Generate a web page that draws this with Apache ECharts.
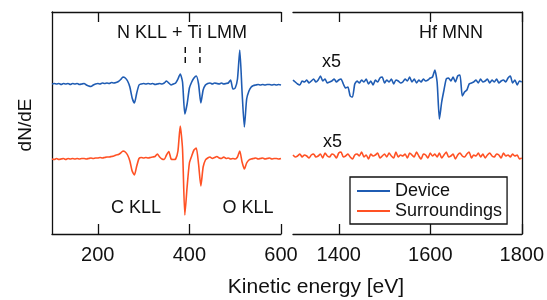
<!DOCTYPE html>
<html>
<head>
<meta charset="utf-8">
<script src="https://cdn.jsdelivr.net/npm/echarts@6.0.0/dist/echarts.min.js"></script>
<style>
    html, body {margin: 0; padding: 0; background: #fff;}
    #auger {width: 547px; height: 300px;}
</style>
</head>
<body>
<div id="auger"></div>
<script>
// low energy window: 100..600 eV, step 5
var lowStart = 100, lowStep = 5;
var deviceLow = [
    0, 0.5, 0, 0.5, -0.5, 0.5, 0, 0.5, -0.5, 0.5,
    0, 0.5, -0.5, 0, 0.5, -1, -2, -2.5, -1, 0,
    0.5, 0, 1, 0.5, 1, 0.5, 1.5, 1, 1.5, 2.5,
    4.5, 7, 6, 3, -3, -14, -19, -9, -1, 0,
    0.5, 0, 0.5, 0, 0.5, -0.5, 0, 0.5, 0, 1,
    3, 1, -1, 0, 1, 5, 10, 2, -30, -20,
    -4, 2, 6, 8, 0, -19, -6, -1, 0.5, 1,
    0, 1, 0.5, 0, 1, 0, 0.5, 1, 4, -5,
    -4, 5, 34, -8, -43, -15, -7, -3, -1.5, -1,
    -0.5, -1, -0.5, -1, -0.5, -0.5, -1, -0.5, -1, -0.5,
    -1
];
var surrLow = [
    0, -0.5, 0.5, -0.5, 0, 0.5, -0.5, 0.5, 0, 0.5,
    0, 0.5, 0, 0.5, 0.5, 0, 0.5, 1, 0.5, 1,
    1, 1.5, 1, 1.5, 2, 2, 2.5, 3, 4, 4.5,
    6, 8, 7, 4, -2, -12, -16, -7, 0.5, 1.5,
    1, 1.5, 1, 1.5, 2, 2.5, 5, 2, 0, -0.5,
    4, 7.5, 0, -0.5, 0, 8, 33, 10, -56, -28,
    -4, 3, 9, 11, -5, -27, -8, -1, 1, 2,
    0.5, 1.5, 2.5, 1, 0.5, 2, 0.5, 1, 0, 0.5,
    0, 2, 8, -3, -10, -4, -1, 0, 0.5, 1,
    0, 0.5, 1, 0, 0.5, 1, 0, 0.5, 0.5, 0,
    0.5
];

// high energy window: 1300..1800 eV, step 5 (x5)
var highStart = 1300, highStep = 5;
var deviceHigh = [
    2, 0, -2, -3, 1, 0, 2, -1, 1, 3,
    0, 2, 6, 1, 3, -1, 0, 1, 3, 0,
    2, 3, -2, -6, -5, -14, -15, -2, 1, -1,
    2, 0, 3, -2, 1, -3, 2, 0, 4, 5,
    -1, 2, 0, 3, -2, 2, 1, -1, 0, 3,
    1, 5, 0, 3, -1, 2, 0, 3, 1, 2,
    4, 5, 12, 0, -37, -20, -8, 3, 4, 1,
    5, 0, 6, 7, -14, -10, -8, -2, -1, 0,
    2, -1, 3, 0, 1, 3, -1, 2, 0, 3,
    -1, 1, 2, 0, 4, 6, -1, 2, -3, 1,
    0
];
var surrHigh = [
    1, -1, 0, 2, -1, 1, 0, -2, 1, 2,
    -1, 0, 2, -2, 3, 0, -1, 2, 1, -2,
    3, 4, -1, 0, 2, -1, -3, 1, 2, 0,
    4, -1, 1, -3, 2, 0, 1, 3, -2, 0,
    2, -1, 3, 0, -2, 4, -1, 1, 0, 2,
    -2, 3, 1, -1, 4, 0, -3, 2, 1, -2,
    3, 0, 2, -1, 3, -2, 1, 4, -1, 0,
    2, -3, 1, 3, 0, -1, 2, 4, -2, 1,
    0, 3, -1, 2, -2, 1, 3, 0, -1, 2,
    1, -2, 3, 0, 1, -1, 2, 0, 1, -3,
    -2
];

// vertical offsets of the stacked spectra (arb. units)
var offsets = {deviceLow: 150, surrLow: 75, deviceHigh: 152, surrHigh: 78};

var lowTicks = [200, 400, 600];
var highTicks = [1400, 1600, 1800];
var nTiMarks = [391, 423];   // dashed markers N KLL / Ti LMM

var FONT = '"Liberation Sans", Arial, Helvetica, sans-serif';
var BLUE = '#1f5cb3';
var RED = '#ff5124';

function toXY(values, start, step, offset) {
    var out = [];
    for (var i = 0; i < values.length; i++) {
        out.push([start + i * step, offset + values[i]]);
    }
    return out;
}

function xAx(grid, pos, min, max, ticks, labels) {
    return {
        type: 'value', gridIndex: grid, position: pos, min: min, max: max,
        axisLine: {show: true, lineStyle: {color: '#111', width: 1.3}},
        axisTick: {show: true, inside: true, length: 10, customValues: ticks,
                   lineStyle: {color: '#111', width: 1.3}},
        axisLabel: {show: labels, customValues: ticks, margin: 11,
                    formatter: function (v) { return String(v); },
                    fontSize: 20, color: '#111', fontFamily: FONT},
        splitLine: {show: false}
    };
}

function yAx(grid, pos) {
    return {
        type: 'value', gridIndex: grid, position: pos, min: 0, max: 222,
        axisLine: {show: true, lineStyle: {color: '#111', width: 1.3}},
        axisTick: {show: false}, axisLabel: {show: false}, splitLine: {show: false}
    };
}

function spec(name, color, data, xi, yi) {
    return {
        name: name, type: 'line', data: data, xAxisIndex: xi, yAxisIndex: yi,
        showSymbol: false, symbol: 'none', smooth: 0.2,
        lineStyle: {color: color, width: 1.6}, itemStyle: {color: color},
        silent: true
    };
}

function note(text, x, y, size, rot) {
    return {
        type: 'text', x: x, y: y, rotation: rot || 0,
        style: {text: text, x: 0, y: 0, align: 'center', verticalAlign: 'middle',
                fontSize: size, fontFamily: FONT, fill: '#111'}
    };
}

function drawAuger(id) {
    var myChart = echarts.init(document.getElementById(id));

    var series = [
        spec('Device', BLUE, toXY(deviceLow, lowStart, lowStep, offsets.deviceLow), 0, 0),
        spec('Surroundings', RED, toXY(surrLow, lowStart, lowStep, offsets.surrLow), 0, 0),
        spec('Device', BLUE, toXY(deviceHigh, highStart, highStep, offsets.deviceHigh), 2, 1),
        spec('Surroundings', RED, toXY(surrHigh, highStart, highStep, offsets.surrHigh), 2, 1)
    ];
    nTiMarks.forEach(function (e) {
        series.push({
            type: 'line', xAxisIndex: 0, yAxisIndex: 0, showSymbol: false, symbol: 'none',
            data: [[e, 171], [e, 188]], silent: true,
            lineStyle: {color: '#111', width: 1.5, type: [6, 4]}
        });
    });

    var option = {
        animation: false,
        grid: [
            {left: 52, top: 12, width: 229, height: 222},
            {left: 293, top: 12, width: 229, height: 222}
        ],
        xAxis: [
            xAx(0, 'bottom', 100, 600, lowTicks, true),
            xAx(0, 'top', 100, 600, lowTicks, false),
            xAx(1, 'bottom', 1300, 1800, highTicks, true),
            xAx(1, 'top', 1300, 1800, highTicks, false)
        ],
        yAxis: [yAx(0, 'left'), yAx(1, 'right')],
        legend: {
            data: ['Device', 'Surroundings'],
            orient: 'vertical', left: 350, top: 177,
            icon: 'rect', itemWidth: 33, itemHeight: 2, itemGap: 2,
            padding: [5, 5, 4, 7],
            borderColor: '#111', borderWidth: 1.3, borderRadius: 0,
            backgroundColor: '#fff',
            textStyle: {fontSize: 18, color: '#111', fontFamily: FONT}
        },
        graphic: [
            note('N KLL + Ti LMM', 182, 33, 18),
            note('Hf MNN', 451, 33, 18),
            note('x5', 331.5, 62.5, 18),
            note('x5', 332.5, 142.5, 18),
            note('C KLL', 136, 208, 18),
            note('O KLL', 248, 208, 18),
            note('dN/dE', 26, 125, 19, Math.PI / 2),
            note('Kinetic energy [eV]', 316, 287, 21)
        ],
        series: series
    };

    myChart.setOption(option);
}

drawAuger('auger');
</script>
</body>
</html>
